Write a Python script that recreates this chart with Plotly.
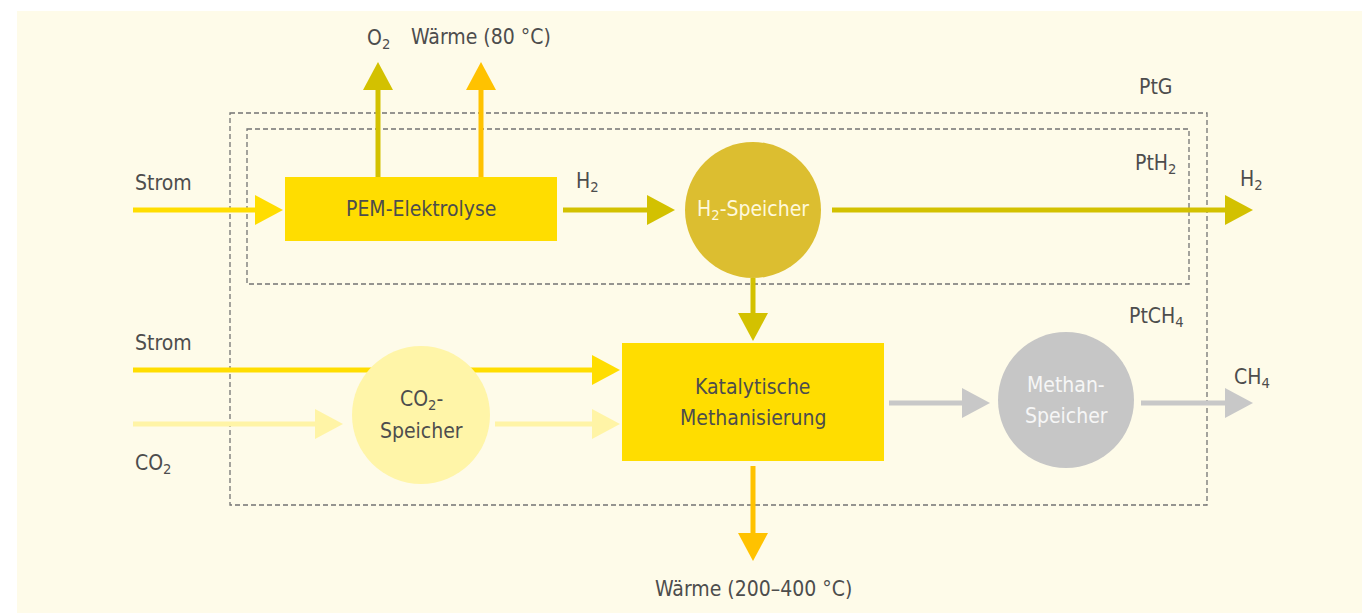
import plotly.graph_objects as go

W, H = 1370, 613
OFF = 8  # default page margin of the html body
FONT = "DejaVu Sans Condensed, Liberation Sans Narrow, Roboto Condensed, sans-serif"
TEXT = "#4D4D4D"

# ---- background panel ----
bg_x = [17, 1372]
bg_y = [11, 615]
bg_color = "#FEFBE9"

# ---- dashed system boundaries ----
frame_x0 = [230, 247]
frame_x1 = [1207, 1189]
frame_y0 = [113, 129]
frame_y1 = [505, 284]

# ---- rectangular process boxes ----
box_labels = ["PEM-Elektrolyse", "Katalytische<br>Methanisierung"]
box_x0 = [285, 622]
box_x1 = [557, 884]
box_y0 = [177, 343]
box_y1 = [241, 461]
box_colors = ["#FFDD00", "#FFDD00"]

# ---- storage circles ----
circle_labels = ["H<sub>2</sub>-Speicher", "CO<sub>2</sub>-<br>Speicher", "Methan-<br>Speicher"]
circle_cx = [753, 421, 1066]
circle_cy = [210, 415, 400]
circle_r = [68, 69, 68]
circle_colors = ["#DCBE30", "#FFF5A8", "#C6C6C6"]
circle_text_colors = ["#FFF9DC", TEXT, "#F6F6F6"]

# ---- arrows (start -> tip) ----
OLIVE = "#D3C100"
YEL = "#FFDD00"
ORANGE = "#FFC200"
PALE = "#FFF4A6"
GREY = "#C8C8C8"
arrow_x0 = [133, 378, 481, 563, 832, 753, 133, 133, 495, 889, 1141, 753]
arrow_y0 = [210, 177, 177, 210, 210, 278, 370, 424, 424, 403, 403, 466]
arrow_x1 = [283, 378, 481, 675, 1253, 753, 620, 343, 620, 990, 1253, 753]
arrow_y1 = [210, 62, 62, 210, 210, 341, 370, 424, 424, 403, 403, 561]
arrow_colors = [YEL, OLIVE, ORANGE, OLIVE, OLIVE, OLIVE, YEL, PALE, PALE, GREY, GREY, ORANGE]

# ---- free text labels ----
label_texts = ["PtG", "PtH<sub>2</sub>", "PtCH<sub>4</sub>",
               "Strom", "O<sub>2</sub>", "Wärme (80 °C)", "H<sub>2</sub>", "H<sub>2</sub>",
               "Strom", "CO<sub>2</sub>", "CH<sub>4</sub>", "Wärme (200–400 °C)"]
label_x = [1155, 1155, 1156,
           133, 378, 481, 574, 1238,
           133, 133, 1232, 753]
label_y = [87, 164, 317,
           183, 39, 37, 182, 180,
           343, 464, 378, 589]
label_anchor = ["center", "center", "center",
                "left", "center", "center", "left", "left",
                "left", "left", "left", "center"]

HEAD_L = 28
HEAD_W = 15
LINE_W = 5
FS = 21
LINE_SPACING = 31

shapes = []
annotations = []


def add_multiline(cx, cy, label, color):
    lines = label.split("<br>")
    n = len(lines)
    for j, ln in enumerate(lines):
        annotations.append(dict(x=cx, y=cy + (j - (n - 1) / 2) * LINE_SPACING, text=ln,
                                showarrow=False, xanchor="center",
                                font=dict(family=FONT, size=FS, color=color)))


shapes.append(dict(type="rect", x0=bg_x[0], x1=bg_x[1], y0=bg_y[0], y1=bg_y[1],
                   fillcolor=bg_color, line=dict(width=0), layer="below"))

for i in range(len(frame_x0)):
    shapes.append(dict(type="rect", x0=frame_x0[i], x1=frame_x1[i], y0=frame_y0[i], y1=frame_y1[i],
                       line=dict(color="#737373", width=1.3, dash="5px,3px"), fillcolor="rgba(0,0,0,0)"))

# arrows
for i in range(len(arrow_x0)):
    x0, y0, x1, y1 = arrow_x0[i], arrow_y0[i], arrow_x1[i], arrow_y1[i]
    dx, dy = x1 - x0, y1 - y0
    n = (dx * dx + dy * dy) ** 0.5
    ux, uy = dx / n, dy / n
    px, py = -uy, ux
    bx, by = x1 - HEAD_L * ux, y1 - HEAD_L * uy
    shapes.append(dict(type="line", x0=x0, y0=y0, x1=bx + ux, y1=by + uy,
                       line=dict(color=arrow_colors[i], width=LINE_W)))
    path = (f"M {x1},{y1} L {bx + HEAD_W * px},{by + HEAD_W * py} "
            f"L {bx - HEAD_W * px},{by - HEAD_W * py} Z")
    shapes.append(dict(type="path", path=path, fillcolor=arrow_colors[i], line=dict(width=0)))

# boxes
for i in range(len(box_labels)):
    shapes.append(dict(type="rect", x0=box_x0[i], x1=box_x1[i], y0=box_y0[i], y1=box_y1[i],
                       fillcolor=box_colors[i], line=dict(width=0)))
    add_multiline((box_x0[i] + box_x1[i]) / 2, (box_y0[i] + box_y1[i]) / 2, box_labels[i], TEXT)

# circles
for i in range(len(circle_labels)):
    shapes.append(dict(type="circle", x0=circle_cx[i] - circle_r[i], x1=circle_cx[i] + circle_r[i],
                       y0=circle_cy[i] - circle_r[i], y1=circle_cy[i] + circle_r[i],
                       fillcolor=circle_colors[i], line=dict(width=0)))
    add_multiline(circle_cx[i], circle_cy[i], circle_labels[i], circle_text_colors[i])

for i in range(len(label_texts)):
    annotations.append(dict(x=label_x[i], y=label_y[i], text=label_texts[i], showarrow=False,
                            xanchor=label_anchor[i],
                            font=dict(family=FONT, size=FS, color=TEXT)))

fig = go.Figure()
fig.update_layout(
    width=W - OFF, height=H - OFF,
    margin=dict(l=0, r=0, t=0, b=0),
    paper_bgcolor="white", plot_bgcolor="white",
    xaxis=dict(range=[OFF, W], visible=False, fixedrange=True),
    yaxis=dict(range=[H, OFF], visible=False, fixedrange=True),
    shapes=shapes, annotations=annotations, showlegend=False,
)
fig.write_html("out.html")
